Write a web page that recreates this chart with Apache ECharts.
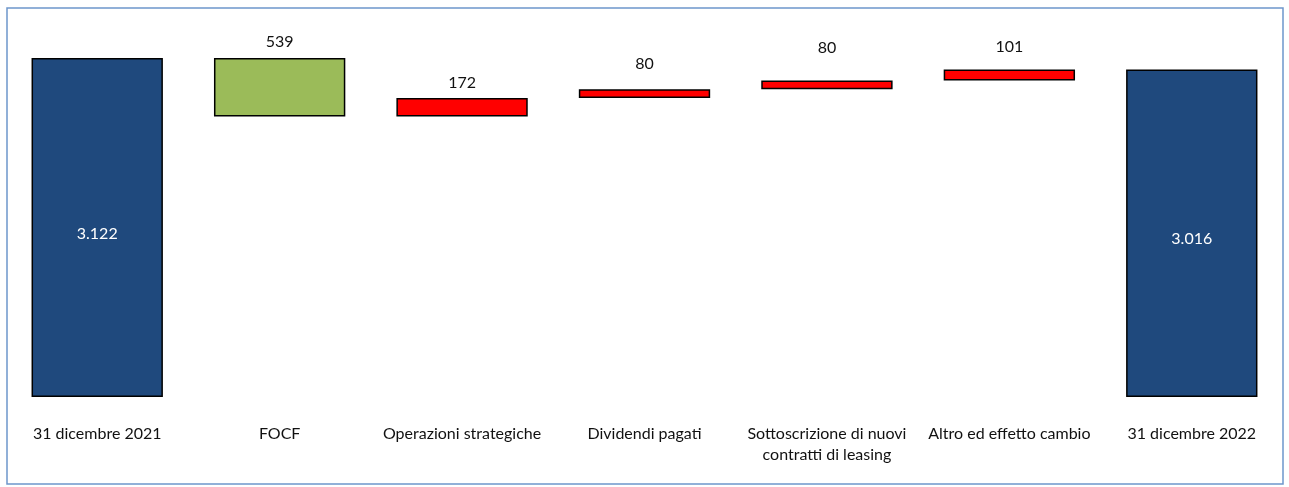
<!DOCTYPE html>
<html><head><meta charset="utf-8">
<script src="https://cdn.jsdelivr.net/npm/echarts@6/dist/echarts.min.js"></script>
<style>html,body{margin:0;padding:0;background:#fff}#c{width:1289px;height:487px}</style>
</head><body><div id="c"></div>
<script>
const categories = ['31 dicembre 2021','FOCF','Operazioni strategiche','Dividendi pagati','Sottoscrizione di nuovi\ncontratti di leasing','Altro ed effetto cambio','31 dicembre 2022'];
const startValue = 3122;
const movements = [-539, 172, 80, 80, 101]; // FOCF lowers debt, others raise it
const endValue = 3016;
const valueLabels = ['3.122','539','172','80','80','101','3.016'];

// style-only: label distance above each movement bar
const labelDistance = [0, 8, 7, 17, 25, 15, 0];

const base = [0], vis = [startValue];
let run = startValue;
movements.forEach(m => {
  if (m < 0) { run += m; base.push(run); vis.push(-m); }
  else { base.push(run); vis.push(m); run += m; }
});
base.push(0); vis.push(endValue);

const colors = vis.map((v,i) => i===0||i===vis.length-1 ? '#1F497D' : (i===1 ? '#9BBB59' : '#FF0000'));

const chart = echarts.init(document.getElementById('c'));
chart.setOption({
  animation:false,
  textStyle:{fontFamily:'Lato'},
  graphic:[{type:'rect',shape:{x:7,y:8,width:1276,height:476},style:{fill:'none',stroke:'#6E96CB',lineWidth:1.5},silent:true}],
  grid:{left:6,right:6,top:17,bottom:90},
  xAxis:{type:'category',data:categories,axisLine:{show:false},axisTick:{show:false},
    axisLabel:{interval:0,margin:26,fontSize:16,color:'#111',lineHeight:21,fontFamily:'Lato'}},
  yAxis:{type:'value',min:0,max:3500,show:false,splitLine:{show:false}},
  series:[
    {type:'bar',stack:'w',data:base,itemStyle:{color:'transparent'},barWidth:'72%',silent:true},
    {type:'bar',stack:'w',barWidth:'72%',
      data:vis.map((v,i)=>({value:v,itemStyle:{color:colors[i]},
        label:(i===0||i===vis.length-1)?
          {show:true,position:'inside',offset:[0,6],color:'#fff',fontSize:16,formatter:valueLabels[i]}:
          {show:true,position:'top',distance:labelDistance[i],color:'#111',fontSize:16,formatter:valueLabels[i]}})),
      itemStyle:{borderColor:'#000',borderWidth:1.5}}
  ]
});
</script></body></html>
